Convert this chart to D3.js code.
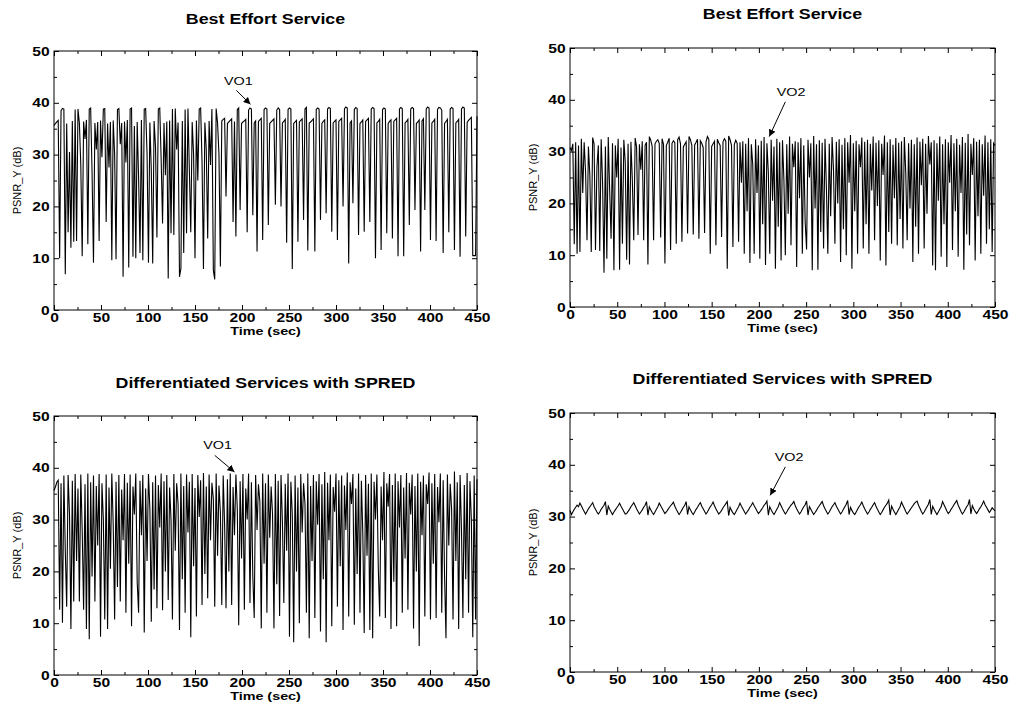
<!DOCTYPE html>
<html>
<head>
<meta charset="utf-8">
<script src="https://cdn.jsdelivr.net/npm/d3@7"></script>
<style>
body { margin: 0; background: #fff; }
svg { display: block; }
text { font-family: "Liberation Sans", Arial, Helvetica, sans-serif; fill: #000; }
</style>
</head>
<body>
<script>
// sampling interval of the PSNR traces (sec)
var step = 1.5;

var xTicks = [0, 50, 100, 150, 200, 250, 300, 350, 400, 450];
var xMinor = [25, 75, 125, 175, 225, 275, 325, 375, 425];
var yTicks = [0, 10, 20, 30, 40, 50];
var yMinor = [5, 15, 25, 35, 45];

var titles = ['Best Effort Service', 'Best Effort Service',
  'Differentiated Services with SPRED', 'Differentiated Services with SPRED'];
var objectNames = ['VO1', 'VO2', 'VO1', 'VO2'];

// label position, arrow tail and arrow tip in data units [sec, dB]
var notes = [
  [[196, 44.3], [194, 42.4], [209, 39.7]],
  [[234, 41.6], [228, 39.6], [211, 32.9]],
  [[174, 44.4], [171, 42.4], [192, 39.2]],
  [[232, 41.6], [228, 39.6], [212, 34.1]]
];

// VO1, best effort
var vo1Best = [
  35.6, 36.0, 36.3, 36.6, 10.0, 38.5, 38.9, 38.8, 6.9, 36.0,
  15.0, 30.5, 12.0, 36.5, 13.2, 38.7, 13.3, 38.8, 36.1, 28.0,
  10.4, 36.4, 33.0, 36.7, 12.7, 38.8, 39.0, 26.5, 9.1, 36.1,
  31.0, 36.3, 13.3, 36.6, 29.5, 38.8, 38.9, 17.0, 36.0, 27.5,
  36.3, 9.6, 36.6, 30.0, 9.8, 38.7, 38.9, 32.0, 36.1, 6.4,
  36.4, 28.5, 36.7, 8.2, 38.8, 39.0, 10.3, 35.5, 10.0, 36.3,
  25.5, 11.0, 36.7, 9.6, 38.8, 38.9, 30.0, 9.1, 36.2, 27.0,
  9.0, 36.5, 31.5, 14.0, 38.8, 39.0, 29.0, 16.7, 36.1, 26.0,
  36.4, 6.1, 36.6, 14.8, 38.8, 14.5, 38.9, 31.0, 36.2, 6.4,
  8.0, 36.5, 11.0, 38.7, 14.8, 38.9, 27.0, 15.0, 36.3, 30.0,
  10.0, 36.6, 25.0, 38.8, 39.0, 28.5, 7.9, 36.2, 31.0, 13.8,
  36.5, 28.0, 38.8, 7.7, 5.9, 38.9, 36.1, 30.0, 8.4, 36.5,
  36.8, 37.0, 21.9, 36.0, 36.3, 36.6, 36.9, 17.0, 36.4, 14.2,
  38.7, 39.0, 19.3, 36.0, 36.3, 36.5, 36.8, 15.0, 38.6, 39.0,
  38.8, 18.3, 36.1, 36.5, 11.3, 36.4, 36.7, 37.0, 13.5, 38.7,
  39.0, 38.8, 16.4, 36.0, 36.3, 36.6, 36.9, 20.3, 38.6, 39.0,
  38.7, 20.0, 36.1, 36.4, 36.8, 13.0, 38.7, 39.0, 38.8, 7.9,
  36.0, 36.3, 36.6, 13.2, 36.3, 36.6, 36.9, 17.4, 38.8, 39.1,
  11.5, 36.1, 36.3, 36.6, 36.9, 11.3, 38.7, 39.0, 38.8, 17.4,
  36.0, 36.4, 36.7, 18.7, 38.8, 39.1, 38.9, 15.1, 36.1, 36.4,
  36.7, 13.5, 36.4, 36.7, 37.0, 20.0, 38.8, 39.2, 39.0, 9.0,
  36.1, 36.5, 20.6, 38.7, 39.1, 38.9, 14.5, 36.0, 36.3, 36.7,
  15.1, 36.4, 36.7, 37.0, 17.0, 38.8, 39.1, 38.9, 10.0, 36.1,
  36.4, 36.8, 11.6, 38.7, 39.0, 38.8, 14.8, 36.0, 36.4, 36.7,
  13.8, 36.4, 36.7, 37.0, 10.4, 38.8, 39.1, 38.9, 10.4, 36.1,
  36.4, 36.8, 16.4, 38.8, 39.1, 38.9, 19.3, 36.0, 36.3, 36.7,
  11.3, 36.5, 36.9, 19.3, 38.8, 39.2, 39.0, 13.5, 36.1, 36.4,
  36.8, 13.3, 38.7, 39.1, 39.0, 38.6, 11.0, 36.0, 36.4, 36.8,
  15.0, 38.8, 39.1, 38.9, 11.6, 36.1, 36.4, 36.8, 10.3, 38.8,
  39.2, 39.0, 14.2, 36.2, 36.6, 36.9, 37.2, 10.5, 10.5, 10.5,
  37.4
];

// VO2, best effort
var vo2Best = [
  30.8, 30.2, 31.5, 12.1, 31.8, 10.3, 31.2, 10.6, 32.5, 22.0,
  31.8, 26.0, 12.9, 31.0, 25.5, 10.6, 32.7, 31.5, 11.0, 27.0,
  31.2, 10.8, 32.4, 24.0, 6.6, 31.0, 9.3, 32.8, 22.5, 13.2,
  31.6, 7.1, 31.2, 25.0, 32.5, 7.2, 30.8, 12.2, 32.3, 28.0,
  9.1, 31.5, 8.2, 31.9, 24.5, 12.9, 32.6, 30.9, 13.9, 31.4,
  26.5, 32.0, 12.9, 31.2, 31.8, 8.2, 32.9, 32.2, 31.0, 12.9,
  31.5, 32.0, 32.3, 31.6, 13.4, 32.5, 31.4, 8.4, 31.2, 31.8,
  32.6, 11.0, 31.6, 32.1, 31.7, 12.2, 32.3, 32.8, 31.5, 12.6,
  30.9, 31.4, 31.9, 14.2, 32.9, 32.3, 31.2, 14.0, 31.3, 31.8,
  32.4, 13.2, 32.1, 31.6, 30.8, 14.3, 31.9, 32.9, 32.4, 10.3,
  31.0, 31.5, 32.0, 11.9, 32.4, 31.7, 31.2, 13.5, 31.9, 32.5,
  32.0, 7.4, 33.0, 32.3, 31.2, 11.6, 31.4, 32.2, 31.6, 12.6,
  31.8, 24.0, 32.0, 10.3, 31.5, 18.5, 32.6, 8.5, 31.4, 27.5,
  10.3, 32.4, 22.0, 31.2, 9.3, 32.1, 16.0, 32.8, 8.1, 31.6,
  26.0, 10.3, 32.3, 20.5, 31.0, 7.4, 32.5, 15.5, 31.8, 9.0,
  32.2, 24.5, 10.0, 31.4, 18.0, 32.9, 11.9, 31.5, 27.0, 32.0,
  7.7, 31.8, 21.0, 32.6, 10.3, 31.2, 16.5, 11.1, 32.3, 25.0,
  31.6, 7.1, 33.0, 19.0, 31.4, 7.2, 32.2, 14.5, 31.7, 11.3,
  32.5, 23.0, 10.3, 31.5, 17.5, 32.8, 26.5, 12.2, 31.9, 20.0,
  32.4, 8.7, 31.3, 15.0, 32.6, 10.0, 31.8, 24.0, 33.2, 7.4,
  31.6, 18.5, 32.1, 10.3, 31.4, 27.0, 32.7, 11.3, 31.9, 16.0,
  32.3, 10.3, 31.5, 22.5, 32.9, 12.9, 31.7, 19.5, 32.2, 9.0,
  31.5, 25.5, 33.1, 8.0, 31.8, 14.5, 32.4, 12.2, 31.3, 21.0,
  32.6, 11.9, 31.7, 17.0, 32.0, 11.3, 32.8, 26.0, 12.9, 31.6,
  19.0, 32.3, 8.7, 31.4, 15.5, 32.7, 10.3, 31.9, 23.5, 32.5,
  11.3, 31.5, 18.0, 33.0, 27.5, 31.8, 8.0, 32.2, 7.1, 31.6,
  20.5, 32.9, 9.7, 31.4, 16.0, 32.4, 7.7, 31.8, 24.0, 33.2,
  11.0, 31.6, 18.5, 32.5, 9.7, 31.3, 22.0, 32.8, 7.2, 31.7,
  14.0, 33.4, 11.9, 31.5, 25.5, 32.6, 9.0, 31.9, 17.5, 32.3,
  10.3, 31.4, 21.5, 33.1, 12.2, 31.8, 15.0, 32.4, 10.6, 31.6,
  31.2
];

// VO1, differentiated services with SPRED
var vo1Spred = [
  35.6, 36.3, 37.2, 37.6, 12.6, 37.0, 10.1, 38.5, 24.0, 13.2,
  38.6, 31.0, 8.9, 37.5, 14.2, 38.8, 22.0, 36.0, 14.2, 38.7,
  28.0, 12.6, 36.8, 8.9, 38.9, 6.9, 37.2, 19.0, 38.5, 14.2,
  36.5, 25.0, 38.8, 7.4, 37.0, 30.0, 10.7, 38.7, 8.9, 36.2,
  20.5, 38.9, 29.0, 10.7, 37.3, 17.0, 38.6, 14.2, 35.8, 26.0,
  38.8, 12.0, 37.1, 21.5, 38.7, 9.4, 36.4, 31.0, 38.9, 18.0,
  12.0, 37.5, 27.0, 38.6, 8.2, 36.0, 22.0, 38.8, 32.0, 10.3,
  37.2, 16.5, 38.5, 12.9, 36.7, 28.5, 38.9, 12.5, 37.4, 20.0,
  38.6, 14.5, 36.2, 30.0, 10.7, 38.8, 24.0, 37.0, 33.0, 8.7,
  38.9, 18.5, 36.5, 12.0, 38.7, 27.5, 37.3, 7.3, 38.8, 21.0,
  36.1, 11.3, 38.6, 30.5, 37.6, 13.5, 39.0, 19.5, 36.4, 14.8,
  38.7, 26.0, 37.1, 34.0, 13.2, 38.9, 23.0, 36.6, 31.5, 13.5,
  38.5, 29.0, 12.9, 37.8, 20.0, 38.9, 13.5, 36.3, 27.0, 38.7,
  32.0, 9.6, 37.4, 22.5, 38.8, 12.6, 36.0, 30.0, 38.9, 13.9,
  37.2, 19.0, 11.0, 38.6, 28.0, 36.8, 33.5, 9.0, 38.9, 21.5,
  37.0, 12.0, 38.7, 26.5, 36.4, 31.0, 9.0, 38.8, 17.5, 37.5,
  11.4, 38.6, 29.5, 13.9, 36.9, 24.0, 38.9, 7.4, 37.3, 31.0,
  6.3, 38.5, 20.0, 36.2, 10.0, 38.8, 27.5, 37.0, 33.0, 12.0,
  38.9, 7.1, 36.5, 22.0, 38.6, 11.0, 37.4, 29.0, 38.8, 8.4,
  36.8, 18.5, 39.2, 6.3, 37.1, 26.0, 38.7, 9.4, 36.3, 31.5,
  38.9, 13.2, 37.6, 21.0, 38.5, 8.7, 36.6, 28.0, 39.1, 11.3,
  37.2, 33.0, 38.8, 9.7, 36.0, 19.5, 38.9, 12.0, 37.5, 27.5,
  8.1, 38.6, 23.0, 36.9, 8.7, 38.9, 7.1, 37.3, 30.0, 38.7,
  20.5, 11.3, 36.4, 26.0, 39.2, 11.0, 37.0, 32.5, 38.8, 8.9,
  36.7, 18.0, 38.9, 9.4, 37.4, 28.5, 38.6, 12.0, 36.2, 22.5,
  39.0, 12.6, 37.1, 31.0, 38.7, 9.0, 36.5, 20.0, 38.9, 5.6,
  37.3, 27.0, 38.5, 11.3, 36.8, 33.0, 39.1, 10.7, 37.0, 21.5,
  38.8, 11.0, 36.3, 29.5, 38.9, 12.0, 37.6, 19.0, 7.1, 38.7,
  25.0, 36.9, 32.0, 10.7, 39.3, 22.0, 37.2, 8.9, 38.6, 28.0,
  11.0, 36.7, 18.5, 39.0, 12.0, 37.4, 30.0, 7.3, 38.5, 10.7,
  37.8
];

// VO2, differentiated services with SPRED
var vo2Spred = [
  31.2, 30.4, 30.9, 31.4, 31.8, 32.2, 31.9, 32.6, 32.1, 31.5,
  31.0, 30.5, 31.0, 31.5, 31.9, 32.3, 32.7, 31.9, 31.4, 30.9,
  30.5, 30.9, 31.4, 31.8, 32.2, 32.9, 30.3, 32.0, 31.4, 30.9,
  30.4, 30.9, 31.3, 31.7, 32.1, 32.6, 32.0, 31.5, 31.0, 30.5,
  30.6, 31.0, 31.4, 31.9, 32.3, 32.7, 32.1, 31.5, 31.0, 30.5,
  30.9, 31.3, 31.8, 32.2, 32.9, 30.3, 31.9, 31.3, 30.8, 30.4,
  30.9, 31.4, 31.9, 32.6, 32.1, 31.6, 31.1, 30.6, 30.9, 31.3,
  31.7, 32.1, 32.4, 32.8, 32.0, 31.4, 30.9, 30.4, 30.8, 31.3,
  31.8, 32.2, 32.9, 30.4, 31.9, 31.3, 30.8, 30.4, 30.9, 31.4,
  31.8, 32.3, 32.7, 32.0, 31.5, 31.0, 30.5, 30.9, 31.4, 31.9,
  32.3, 32.8, 32.1, 31.5, 31.0, 30.5, 30.8, 31.2, 31.7, 32.1,
  32.5, 32.9, 30.2, 31.8, 31.2, 30.7, 30.4, 30.9, 31.4, 31.9,
  32.6, 32.0, 31.5, 31.0, 30.5, 30.9, 31.3, 31.8, 32.2, 32.7,
  32.1, 31.6, 31.1, 30.6, 30.9, 31.3, 31.7, 32.2, 32.5, 33.0,
  30.3, 31.9, 31.3, 30.8, 30.4, 30.9, 31.4, 31.9, 32.7, 32.1,
  31.5, 31.0, 30.5, 30.9, 31.4, 31.8, 32.2, 32.5, 32.9, 32.1,
  31.5, 31.0, 30.5, 30.9, 31.4, 31.9, 32.3, 33.0, 30.3, 31.9,
  31.4, 30.9, 30.4, 30.8, 31.2, 31.7, 32.1, 32.5, 32.9, 32.1,
  31.5, 31.0, 30.5, 30.9, 31.4, 31.9, 32.3, 32.7, 32.0, 31.5,
  31.0, 30.5, 30.9, 31.4, 31.9, 32.4, 33.1, 30.4, 31.8, 31.2,
  30.7, 30.4, 30.9, 31.4, 31.9, 32.3, 32.8, 32.1, 31.5, 31.0,
  30.5, 30.9, 31.4, 31.8, 32.3, 32.7, 32.0, 31.4, 30.9, 30.4,
  30.8, 31.3, 31.8, 32.2, 32.6, 33.2, 30.3, 32.0, 31.4, 30.9,
  30.4, 30.9, 31.4, 31.9, 32.8, 32.2, 31.6, 31.0, 30.5, 30.9,
  31.3, 31.7, 32.1, 32.5, 32.8, 33.0, 32.2, 31.6, 31.0, 30.5,
  30.9, 31.4, 31.9, 32.4, 33.3, 30.4, 32.0, 31.4, 30.9, 30.4,
  30.9, 31.4, 31.9, 32.9, 32.3, 31.7, 31.1, 30.6, 30.9, 31.4,
  31.8, 32.3, 32.7, 33.1, 32.2, 31.6, 31.0, 30.5, 30.9, 31.4,
  31.9, 32.3, 33.3, 30.5, 32.1, 31.5, 31.0, 30.6, 31.0, 31.5,
  31.9, 32.4, 33.0, 32.3, 31.8, 31.3, 30.8, 31.2, 31.7, 31.4,
  31.1
];

var series = [vo1Best, vo2Best, vo1Spred, vo2Spred];

// plot boxes: left, right, bottom (0 dB), top (50 dB), title baseline
var boxes = [
  {x0: 54, x1: 477, y0: 310, y1: 51, ty: 24},
  {x0: 570, x1: 995, y0: 307, y1: 48, ty: 19},
  {x0: 54, x1: 477, y0: 675, y1: 416, ty: 388},
  {x0: 570, x1: 995, y0: 672, y1: 413, ty: 384}
];

var width = 1010;
var height = 705;
var stretch = 'scale(1.25,1)';

var svg = d3.select('body').append('svg')
  .attr('width', width)
  .attr('height', height);

var defs = svg.append('defs');
defs.append('marker')
  .attr('id', 'head')
  .attr('viewBox', '0 0 10 10')
  .attr('refX', 10)
  .attr('refY', 5)
  .attr('markerWidth', 7)
  .attr('markerHeight', 7)
  .attr('markerUnits', 'userSpaceOnUse')
  .attr('orient', 'auto')
  .append('path')
    .attr('d', 'M0,0 L10,5 L0,10 z')
    .attr('fill', '#000');

function styleAxis(sel, withText) {
  sel.select('.domain').remove();
  sel.selectAll('.tick line').attr('stroke', '#000').attr('stroke-width', 1);
  if (withText) {
    sel.attr('font-family', null).attr('font-size', null);
    sel.selectAll('.tick text')
      .attr('font-size', 12.5)
      .attr('font-weight', 'bold')
      .attr('transform', stretch);
  } else {
    sel.selectAll('.tick text').remove();
  }
}

function drawPanel(k) {
  var b = boxes[k];
  var g = svg.append('g');
  var x = d3.scaleLinear().domain([0, 450]).range([b.x0, b.x1]);
  var y = d3.scaleLinear().domain([0, 50]).range([b.y0, b.y1]);

  var line = d3.line()
    .x(function(d, i) { return x(i * step); })
    .y(function(d) { return y(d); });

  g.append('path')
    .datum(series[k])
    .attr('d', line)
    .attr('fill', 'none')
    .attr('stroke', '#000')
    .attr('stroke-width', 1.1)
    .attr('stroke-linejoin', 'miter');

  g.append('rect')
    .attr('x', b.x0)
    .attr('y', b.y1)
    .attr('width', b.x1 - b.x0)
    .attr('height', b.y0 - b.y1)
    .attr('fill', 'none')
    .attr('stroke', '#000')
    .attr('stroke-width', 1);

  // major ticks point inward on all four sides
  g.append('g').attr('transform', 'translate(0,' + b.y0 + ')')
    .call(d3.axisBottom(x).tickValues(xTicks).tickSize(-5).tickPadding(3))
    .call(styleAxis, true);
  g.append('g').attr('transform', 'translate(0,' + b.y1 + ')')
    .call(d3.axisTop(x).tickValues(xTicks).tickSize(-5))
    .call(styleAxis, false);
  g.append('g').attr('transform', 'translate(' + b.x0 + ',0)')
    .call(d3.axisLeft(y).tickValues(yTicks).tickSize(-5).tickPadding(3.5))
    .call(styleAxis, true);
  g.append('g').attr('transform', 'translate(' + b.x1 + ',0)')
    .call(d3.axisRight(y).tickValues(yTicks).tickSize(-5))
    .call(styleAxis, false);

  // minor ticks
  g.append('g').attr('transform', 'translate(0,' + b.y0 + ')')
    .call(d3.axisBottom(x).tickValues(xMinor).tickSize(-3))
    .call(styleAxis, false);
  g.append('g').attr('transform', 'translate(0,' + b.y1 + ')')
    .call(d3.axisTop(x).tickValues(xMinor).tickSize(-3))
    .call(styleAxis, false);
  g.append('g').attr('transform', 'translate(' + b.x0 + ',0)')
    .call(d3.axisLeft(y).tickValues(yMinor).tickSize(-3))
    .call(styleAxis, false);
  g.append('g').attr('transform', 'translate(' + b.x1 + ',0)')
    .call(d3.axisRight(y).tickValues(yMinor).tickSize(-3))
    .call(styleAxis, false);

  var cx = (b.x0 + b.x1) / 2;

  g.append('text')
    .attr('transform', 'translate(' + cx + ',' + b.ty + ') scale(1.15,1)')
    .attr('text-anchor', 'middle')
    .attr('font-size', 15.5)
    .attr('font-weight', 'bold')
    .text(titles[k]);

  g.append('text')
    .attr('transform', 'translate(' + cx + ',' + (b.y0 + 25) + ') ' + stretch)
    .attr('text-anchor', 'middle')
    .attr('font-size', 11.5)
    .attr('font-weight', 'bold')
    .text('Time (sec)');

  g.append('text')
    .attr('transform', 'translate(' + (b.x0 - 33) + ',' + ((b.y0 + b.y1) / 2) + ') rotate(-90)')
    .attr('text-anchor', 'middle')
    .attr('font-size', 11)
    .text('PSNR_Y (dB)');

  var n = notes[k];
  g.append('text')
    .attr('transform', 'translate(' + x(n[0][0]) + ',' + y(n[0][1]) + ') ' + stretch)
    .attr('text-anchor', 'middle')
    .attr('dy', '0.35em')
    .attr('font-size', 11.5)
    .text(objectNames[k]);

  g.append('line')
    .attr('x1', x(n[1][0]))
    .attr('y1', y(n[1][1]))
    .attr('x2', x(n[2][0]))
    .attr('y2', y(n[2][1]))
    .attr('stroke', '#000')
    .attr('stroke-width', 1)
    .attr('marker-end', 'url(#head)');
}

for (var k = 0; k < 4; k++) {
  drawPanel(k);
}
</script>
</body>
</html>
